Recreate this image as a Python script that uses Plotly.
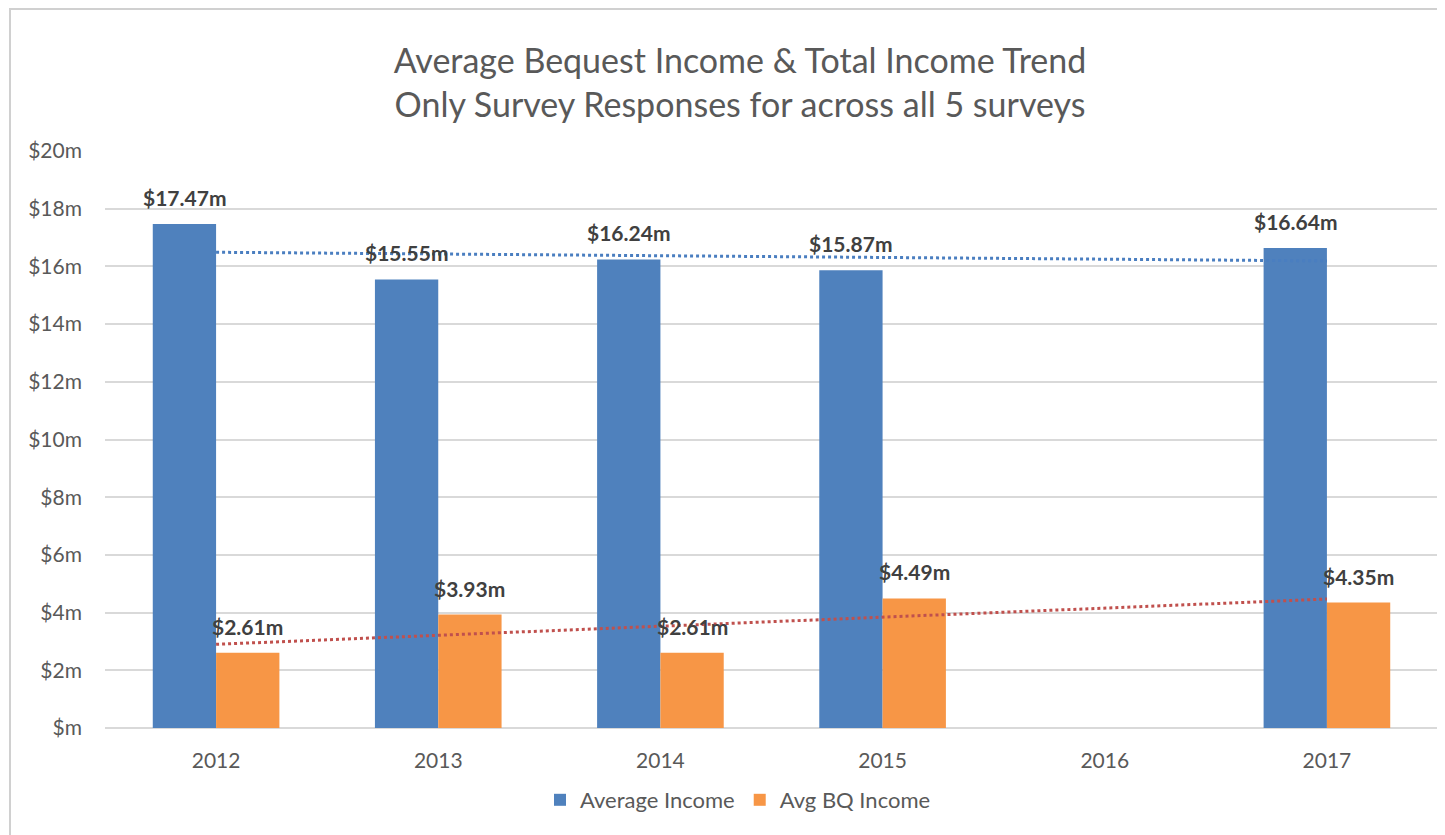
import plotly.graph_objects as go

years = ["2012", "2013", "2014", "2015", "2016", "2017"]
avg_income = [17.47, 15.55, 16.24, 15.87, None, 16.64]
avg_bq_income = [2.61, 3.93, 2.61, 4.49, None, 4.35]
trend_years = ["2012", "2017"]
avg_income_trend = [16.49, 16.19]
avg_bq_trend = [2.90, 4.47]
y_tickvals = [0, 2, 4, 6, 8, 10, 12, 14, 16, 18, 20]
y_ticktext = ["$m", "$2m", "$4m", "$6m", "$8m", "$10m", "$12m", "$14m", "$16m", "$18m", "$20m"]

FONT = "Lato, 'Open Sans', sans-serif"
BLUE = "#4F81BD"
ORANGE = "#F79646"
LABEL_COLOR = "#404040"
TEXT_COLOR = "#595959"

# page has 8px body margin, so figure coords = page coords - 8
W, H = 1437, 827
L, T = 97, 143
pw, ph = 1333, 577
R = W - L - pw
B = H - T - ph

fig = go.Figure()
fig.add_trace(go.Bar(x=years, y=avg_income, name="Average Income", marker_color=BLUE,
                     marker_line_width=0))
fig.add_trace(go.Bar(x=years, y=avg_bq_income, name="Avg BQ Income", marker_color=ORANGE,
                     marker_line_width=0))
fig.add_trace(go.Scatter(
    x=trend_years, y=avg_income_trend, mode="lines", showlegend=False,
    line=dict(color="#4A7EC0", dash="dot", width=3), hoverinfo="skip",
))
fig.add_trace(go.Scatter(
    x=trend_years, y=avg_bq_trend, mode="lines", showlegend=False,
    line=dict(color="#C0504D", dash="dot", width=3), hoverinfo="skip",
))

bargap = 0.43
half_bar_px = (pw / len(years)) * (1 - bargap) / 4

annotations = []
for series, shift in ((avg_income, -half_bar_px), (avg_bq_income, half_bar_px)):
    for i, v in enumerate(series):
        if v is None:
            continue
        annotations.append(dict(
            x=i, y=v, xref="x", yref="y", xshift=shift, yshift=12,
            text=f"<b>${v:.2f}m</b>", showarrow=False, yanchor="bottom", xanchor="center",
            font=dict(size=21, color=LABEL_COLOR, family=FONT),
        ))

fig.update_layout(
    width=W, height=H,
    margin=dict(l=L, r=R, t=T, b=B),
    paper_bgcolor="white", plot_bgcolor="white",
    barmode="group", bargap=bargap, bargroupgap=0,
    font=dict(family=FONT, color=TEXT_COLOR),
    title=dict(
        text="Average Bequest Income & Total Income Trend<br>Only Survey Responses for across all 5 surveys",
        x=(740 - 8 - L) / pw, xanchor="center", xref="paper", y=(H - 65) / H, yanchor="middle", yref="container",
        font=dict(size=34, color=TEXT_COLOR, family=FONT),
    ),
    xaxis=dict(
        type="category", categoryorder="array", categoryarray=years,
        range=[-0.5, len(years) - 0.5],
        showgrid=False, showline=False, ticks="", zeroline=False,
        tickfont=dict(size=21, color=TEXT_COLOR), ticklabelstandoff=18,
    ),
    yaxis=dict(
        range=[0, 20], tickvals=y_tickvals, ticktext=y_ticktext,
        showgrid=True, gridcolor="#D9D9D9", gridwidth=2,
        zeroline=True, zerolinecolor="#D9D9D9", zerolinewidth=2,
        showline=False, ticks="", ticklabelstandoff=22,
        tickfont=dict(size=21, color=TEXT_COLOR),
    ),
    legend=dict(
        orientation="h", x=(738 - 8 - L) / pw, xanchor="center",
        y=(720 - 792) / ph, yanchor="middle",
        font=dict(size=22, color=TEXT_COLOR), itemwidth=30,
    ),
    annotations=annotations,
    shapes=[dict(
        type="rect", xref="paper", yref="paper",
        x0=(2 - L) / pw, x1=(1460 - L) / pw,
        y0=(720 - 850) / ph, y1=(720 - 1) / ph,
        line=dict(color="#D0D0D0", width=2), fillcolor="rgba(0,0,0,0)", layer="below",
    )],
)

fig.write_html("out.html")
